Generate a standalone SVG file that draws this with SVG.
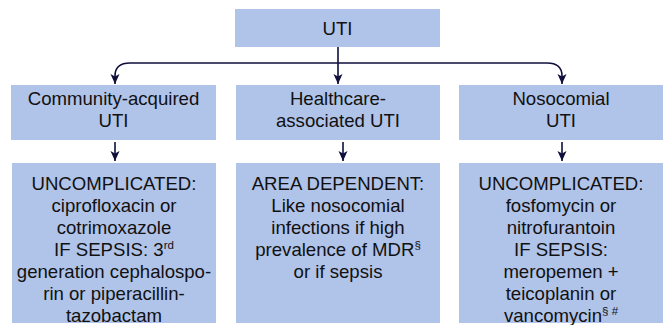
<svg xmlns="http://www.w3.org/2000/svg" width="663" height="325" viewBox="0 0 663 325">
<defs>
<style>
.box{fill:#b0c3e9;}
.t{font-family:"Liberation Sans",Arial,sans-serif;font-size:18.6px;fill:#111111;text-anchor:middle;}
.sup{font-size:11.5px;}
.c{fill:none;stroke:#0f0f3c;stroke-width:1.6;}
</style>
<marker id="ah" markerUnits="userSpaceOnUse" markerWidth="10" markerHeight="11" refX="10" refY="4.5" orient="auto">
<path d="M0,0 L10,4.5 L0,9 L2.5,4.5 z" fill="#0f0f3c"/>
</marker>
</defs>
<rect width="663" height="325" fill="#ffffff"/>
<g id="connectors">
<path class="c" d="M338 47 V84" stroke-width="2" marker-end="url(#ah)"/>
<path class="c" d="M338 63 H130 Q115 63 115 76 V84" marker-end="url(#ah)"/>
<path class="c" d="M338 63 H547 Q562 63 562 76 V84" marker-end="url(#ah)"/>
<path class="c" d="M115 142 V161" marker-end="url(#ah)"/>
<path class="c" d="M343 142 V161" marker-end="url(#ah)"/>
<path class="c" d="M562 142 V161" marker-end="url(#ah)"/>
</g>
<g id="uti">
<rect class="box" x="235" y="9" width="205" height="38"/>
<text class="t" x="337.5" y="34.5">UTI</text>
</g>
<g id="community">
<rect class="box" x="11" y="85" width="205" height="55"/>
<text class="t" x="113.5" y="105">Community-acquired</text>
<text class="t" x="113.5" y="127">UTI</text>
</g>
<g id="healthcare">
<rect class="box" x="236" y="85" width="204" height="55"/>
<text class="t" x="338" y="105">Healthcare-</text>
<text class="t" x="338" y="127">associated UTI</text>
</g>
<g id="nosocomial">
<rect class="box" x="459" y="85" width="204" height="55"/>
<text class="t" x="561" y="105">Nosocomial</text>
<text class="t" x="561" y="127">UTI</text>
</g>
<g id="community-tx">
<rect class="box" x="12" y="163" width="204" height="160"/>
<text class="t" x="114" y="189.8">UNCOMPLICATED:</text>
<text class="t" x="114" y="211.9">ciprofloxacin or</text>
<text class="t" x="114" y="234">cotrimoxazole</text>
<text class="t" x="114" y="256.1">IF SEPSIS: 3<tspan class="sup" dy="-7.5">rd</tspan></text>
<text class="t" x="114" y="278.2">generation cephalospo-</text>
<text class="t" x="114" y="300.3">rin or piperacillin-</text>
<text class="t" x="114" y="322">tazobactam</text>
</g>
<g id="healthcare-tx">
<rect class="box" x="236" y="163" width="204" height="160"/>
<text class="t" x="338" y="189.8">AREA DEPENDENT:</text>
<text class="t" x="338" y="211.9">Like nosocomial</text>
<text class="t" x="338" y="234">infections if high</text>
<text class="t" x="338" y="256.1">prevalence of MDR<tspan class="sup" dy="-7.5">§</tspan></text>
<text class="t" x="338" y="278.2">or if sepsis</text>
</g>
<g id="nosocomial-tx">
<rect class="box" x="459" y="163" width="204" height="160"/>
<text class="t" x="561" y="189.8">UNCOMPLICATED:</text>
<text class="t" x="561" y="211.9">fosfomycin or</text>
<text class="t" x="561" y="234">nitrofurantoin</text>
<text class="t" x="561" y="256.1">IF SEPSIS:</text>
<text class="t" x="561" y="278.2">meropemen +</text>
<text class="t" x="561" y="300.3">teicoplanin or</text>
<text class="t" x="561" y="322">vancomycin<tspan class="sup" dy="-7.5">§ #</tspan></text>
</g>
</svg>
